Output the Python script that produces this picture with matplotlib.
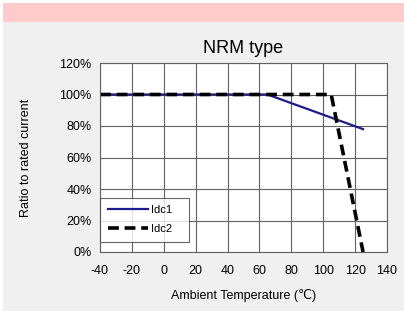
import matplotlib
matplotlib.use("Agg")
import matplotlib.pyplot as plt
from matplotlib.patches import Rectangle

# derating curves (ambient temperature in degC, ratio in %)
idc1_temp = [-40, 65, 125]
idc1_ratio = [100, 100, 78]
idc2_temp = [-40, 105, 125]
idc2_ratio = [100, 100, 0]

xticks = list(range(-40, 141, 20))
yticks = list(range(0, 121, 20))

plt.rcParams['font.family'] = ['Liberation Sans', 'DejaVu Sans']
plt.rcParams['axes.unicode_minus'] = False

fig = plt.figure(figsize=(4.04, 3.11), dpi=100, facecolor='#f0f0f0')
# white frame + pink header strip
fig.patches.append(Rectangle((0, 0), 1, 1, transform=fig.transFigure,
                             facecolor='white', edgecolor='none', zorder=-3))
fig.patches.append(Rectangle((3/404, 0), 1, (311-3)/311, transform=fig.transFigure,
                             facecolor='#f0f0f0', edgecolor='none', zorder=-2))
fig.patches.append(Rectangle((3/404, (311-22)/311), 1, 19/311, transform=fig.transFigure,
                             facecolor='#ffcaca', edgecolor='none', zorder=-1))

ax = fig.add_axes([100/404, 1-252/311, 287/404, 189/311])
ax.set_facecolor('white')

ax.plot(idc1_temp, idc1_ratio, color='#1c1c8c', lw=1.6, label='Idc1   ')
ax.plot(idc2_temp, idc2_ratio, color='black', lw=2.6, ls=(0, (3, 1.6)), label='Idc2   ')

ax.set_xlim(-40, 140)
ax.set_ylim(0, 120)
ax.set_xticks(xticks)
ax.set_yticks(yticks)
ax.set_yticklabels([f"{v}%" for v in yticks])
ax.tick_params(length=0, labelsize=9)
ax.tick_params(axis='x', pad=9)
ax.tick_params(axis='y', pad=6)
ax.grid(color='#606060', lw=0.8)
ax.set_axisbelow(True)
for s in ax.spines.values():
    s.set_color('#606060')
    s.set_linewidth(0.8)

ax.set_title('NRM type', fontsize=13, pad=7)
ax.set_xlabel('Ambient Temperature (\u2103)', fontsize=9, labelpad=9)
ax.set_ylabel('Ratio to rated current', fontsize=9, labelpad=20)

leg = ax.legend(loc='lower left', bbox_to_anchor=(0.0, 0.053), fontsize=8,
                frameon=True, fancybox=False, edgecolor='#404040',
                handlelength=3.6, borderpad=0.7, labelspacing=0.8,
                handletextpad=0.3, borderaxespad=0)
leg.get_frame().set_linewidth(0.8)

fig.savefig('out.png', dpi=100, facecolor=fig.get_facecolor())
